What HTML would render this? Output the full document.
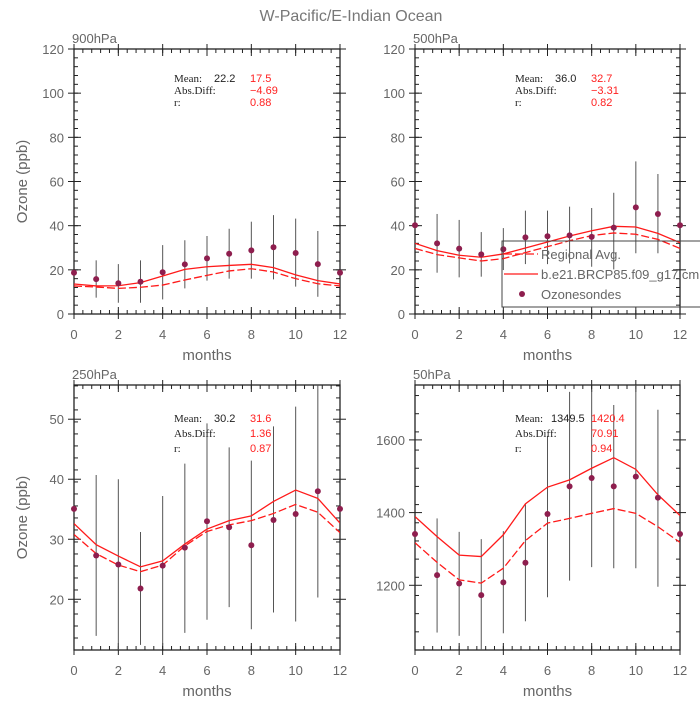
<!DOCTYPE html>
<html><head><meta charset="utf-8"><style>
body{margin:0;background:#fff;}
svg text{font-family:"Liberation Sans",sans-serif;}
svg text.serif{font-family:"Liberation Serif",serif;}
</style></head><body>
<svg id="chart" width="700" height="700" viewBox="0 0 700 700" xmlns="http://www.w3.org/2000/svg">
<rect width="700" height="700" fill="#fff"/>
<text x="351" y="21" text-anchor="middle" font-size="16" fill="#777">W-Pacific/E-Indian Ocean</text>
<g id="root"></g>
</svg>
<script>
const months = [0,1,2,3,4,5,6,7,8,9,10,11,12];
const obs900 = [18.7,15.8,13.9,14.6,18.9,22.5,25.2,27.3,28.8,30.2,27.6,22.6,18.7];
const errLo900 = [null,7.4,5.1,5.1,6.6,11.6,15.1,16,16,15.7,12.4,7.8,null];
const errHi900 = [null,24.3,22.6,24.3,31.2,33.4,35.3,38.6,41.8,44.8,43.2,37.6,null];
const model900 = [13.6,12.7,12.8,14.2,17.2,20.2,21.4,22.0,22.5,21.0,17.7,15.1,13.6];
const reg900 = [12.7,12.2,11.6,12.1,13.1,15.4,17.5,19.5,20.5,19.0,16.0,13.7,12.7];
const obs500 = [40.2,32.0,29.6,27.0,29.3,34.7,35.2,35.6,34.9,39.1,48.3,45.3,40.2];
const errLo500 = [null,18.7,16.6,16.9,19.9,22.6,22.6,22.9,21.4,20.2,27.5,27.5,null];
const errHi500 = [null,45.3,42.6,37.1,38.9,46.8,46.8,48.6,48,54.9,69.1,63.4,null];
const model500 = [32,28.7,26.6,25.7,27.2,29.9,32.6,35.3,37.7,39.7,39.4,36.5,32.3];
const reg500 = [29.7,26.9,25.4,24,25.1,27.8,30.5,33.2,35.5,36.7,36.1,33.8,29.7];
const obs250 = [35.06,27.3,25.8,21.8,25.6,28.6,33,32,29,33.2,34.2,38,35.06];
const errLo250 = [null,13.9,11,12.4,12.3,14.4,16.6,18.7,15,17.8,16.3,20.3,null];
const errHi250 = [null,40.7,40,31.2,37.2,42.6,49.3,45.3,43.1,48.8,52.1,58,null];
const model250 = [32.6,29.1,27.2,25.4,26.4,29.2,31.7,33.1,33.9,36.3,38.2,36.8,32.7];
const reg250 = [30.8,27.6,25.7,24.6,25.7,28.9,31.3,32.4,33.1,34.3,35.8,34.5,31.1];
const obs50 = [1341,1228,1205,1173,1208,1262,1396,1472,1495,1472,1499,1441,1341];
const errLo50 = [null,1070,1061,1000,1068,1101,1167,1213,1250,1247,1247,1196,null];
const errHi50 = [null,1384,1347,1327,1349,1424,1611,1732,1738,1696,1770,1683,null];
const model50 = [1389,1334,1283,1279,1339,1424,1470,1490,1522,1551,1519,1449,1392];
const reg50 = [1317,1263,1215,1206,1247,1323,1371,1384,1398,1411,1398,1361,1318];
const xTicks = [0,2,4,6,8,10,12];
const yTicksA = [0,20,40,60,80,100,120];
const yTicks250 = [20,30,40,50];
const yTicks50 = [1200,1400,1600];
const stats900 = ["22.2","17.5","\u22124.69","0.88"];
const stats500 = ["36.0","32.7","\u22123.31","0.82"];
const stats250 = ["30.2","31.6","1.36","0.87"];
const stats50 = ["1349.5","1420.4","70.91","0.94"];

const NS="http://www.w3.org/2000/svg";
const root=document.getElementById('root');
function mk(tag,attrs,parent){const e=document.createElementNS(NS,tag);for(const k in attrs)e.setAttribute(k,attrs[k]);(parent||root).appendChild(e);return e;}

function panel(p){
  const g=mk('g',{});
  
  
  const X=v=>p.x0+(v-0)/12*(p.x1-p.x0);
  const Y=v=>p.yb-(v-p.ymin)/(p.ymax-p.ymin)*(p.yb-p.yt);
  const clipId='c'+p.name;
  const cp=mk('clipPath',{id:clipId},g);
  mk('rect',{x:p.x0,y:p.yt,width:p.x1-p.x0,height:p.yb-p.yt},cp);
  for(let i=0;i<=30;i++){const v=i*0.4;const x=X(v);
    const t1=mk('line',{x1:x,x2:x,y1:p.yb,y2:p.yb-4,stroke:'#222','stroke-width':1},g);
    const t2=mk('line',{x1:x,x2:x,y1:p.yt,y2:p.yt+4,stroke:'#222','stroke-width':1},g);}
  xTicks.forEach(v=>{const x=X(v);
    const t=mk('line',{x1:x,x2:x,y1:p.yb+5,y2:p.yb-7,stroke:'#222','stroke-width':1},g);
    const t2=mk('line',{x1:x,x2:x,y1:p.yt-5,y2:p.yt+7,stroke:'#222','stroke-width':1},g);
    const l=mk('text',{x:x,y:p.yb+25,'text-anchor':'middle','font-size':13,fill:'#666'},g);l.textContent=v;});
  for(let v=p.ymin;v<=p.ymax+1e-9;v+=p.minor){const y=Y(v); if(y<p.yt-0.5||y>p.yb+0.5)continue;
    const t=mk('line',{x1:p.x0,x2:p.x0+4,y1:y,y2:y,stroke:'#222','stroke-width':1},g);
    const t2=mk('line',{x1:p.x1,x2:p.x1-4,y1:y,y2:y,stroke:'#222','stroke-width':1},g);}
  p.yticks.forEach(v=>{const y=Y(v);
    const t=mk('line',{x1:p.x0-6,x2:p.x0+7,y1:y,y2:y,stroke:'#222','stroke-width':1},g);
    const t2=mk('line',{x1:p.x1+6,x2:p.x1-7,y1:y,y2:y,stroke:'#222','stroke-width':1},g);
    const l=mk('text',{x:p.x0-10,y:y+5,'text-anchor':'end','font-size':13,fill:'#666'},g);l.textContent=v;});
  const fr=mk('rect',{x:p.x0,y:p.yt,width:p.x1-p.x0,height:p.yb-p.yt,fill:'none',stroke:'#222','stroke-width':1.3},g);
  
  const dg=mk('g',{'clip-path':'url(#'+clipId+')'},g);
  months.forEach((m,i)=>{if(p.lo[i]==null)return;
    const e=mk('line',{x1:X(m),x2:X(m),y1:Y(p.lo[i]),y2:Y(p.hi[i]),stroke:'#555','stroke-width':1},dg);
    });
  const pts=a=>a.map((v,i)=>X(months[i])+','+Y(v)).join(' ');
  const l1=mk('polyline',{points:pts(p.model),fill:'none',stroke:'#ff1a1a','stroke-width':1.3},dg);
  
  const l2=mk('polyline',{points:pts(p.reg),fill:'none',stroke:'#ff1a1a','stroke-width':1.3,'stroke-dasharray':'8,3'},dg);
  
  months.forEach((m,i)=>{const c=mk('circle',{cx:X(m),cy:Y(p.obs[i]),r:3,fill:'#8e1e4e'},g);
    });
  const tt=mk('text',{x:p.x0-2,y:p.yt-6,'font-size':13,fill:'#666'},g);tt.textContent=p.title;
  
  const xl=mk('text',{x:(p.x0+p.x1)/2,y:p.yb+46,'text-anchor':'middle','font-size':15,fill:'#666'},g);xl.textContent='months';
  
  if(p.ylab){const yl=mk('text',{x:0,y:0,transform:'translate(27,'+((p.yt+p.yb)/2)+') rotate(-90)','text-anchor':'middle','font-size':15,fill:'#666'},g);yl.textContent='Ozone (ppb)';
    }
  const sx=p.x0+100, s=p.stats, sy=p.sy, dy=p.sdy;
  const rows=[['Mean:',s[0],s[1]],['Abs.Diff:','',s[2]],['r:','',s[3]]];
  rows.forEach((r,i)=>{
    const a=mk('text',{x:sx,y:sy+i*dy,'font-size':11,fill:'#222','class':'serif'},g);a.textContent=r[0];
    if(r[1]){const b=mk('text',{x:sx+(s[0].length>4?36:40),y:sy+i*dy,'font-size':11,fill:'#222'},g);b.textContent=r[1];}
    const c=mk('text',{x:sx+76,y:sy+i*dy,'font-size':11,fill:'#ff2020'},g);c.textContent=r[2];});
}
panel({name:'panel-900hpa',title:'900hPa',x0:74,x1:340,yt:49,yb:314,ymin:0,ymax:120,yticks:yTicksA,minor:4,obs:obs900,lo:errLo900,hi:errHi900,model:model900,reg:reg900,stats:stats900,sy:82,sdy:12,ylab:true});
panel({name:'panel-500hpa',title:'500hPa',x0:415,x1:680,yt:49,yb:314,ymin:0,ymax:120,yticks:yTicksA,minor:4,obs:obs500,lo:errLo500,hi:errHi500,model:model500,reg:reg500,stats:stats500,sy:82,sdy:12,ylab:false});
panel({name:'panel-250hpa',title:'250hPa',x0:74,x1:340,yt:385,yb:650,ymin:11.55,ymax:55.7,yticks:yTicks250,minor:2,obs:obs250,lo:errLo250,hi:errHi250,model:model250,reg:reg250,stats:stats250,sy:422,sdy:15,ylab:true});
panel({name:'panel-50hpa',title:'50hPa',x0:415,x1:680,yt:385,yb:650,ymin:1022,ymax:1751,yticks:yTicks50,minor:50,obs:obs50,lo:errLo50,hi:errHi50,model:model50,reg:reg50,stats:stats50,sy:422,sdy:15,ylab:false});
const lg=mk('g',{});


mk('rect',{x:502,y:241,width:210,height:66,fill:'none',stroke:'#444','stroke-width':1},lg);
const le1=mk('line',{x1:504,x2:538,y1:254,y2:254,stroke:'#ff1a1a','stroke-width':1.3,'stroke-dasharray':'8,3'},lg);

const lt1=mk('text',{x:541,y:259,'font-size':13,fill:'#666'},lg);lt1.textContent='Regional Avg.';

const le2=mk('line',{x1:504,x2:538,y1:274,y2:274,stroke:'#ff1a1a','stroke-width':1.3},lg);

const lt2=mk('text',{x:541,y:279,'font-size':13,fill:'#666'},lg);lt2.textContent='b.e21.BRCP85.f09_g17.cmip6';

const le3=mk('circle',{cx:522,cy:294,r:3,fill:'#8e1e4e'},lg);

const lt3=mk('text',{x:541,y:299,'font-size':13,fill:'#666'},lg);lt3.textContent='Ozonesondes';

</script>
</body></html>
